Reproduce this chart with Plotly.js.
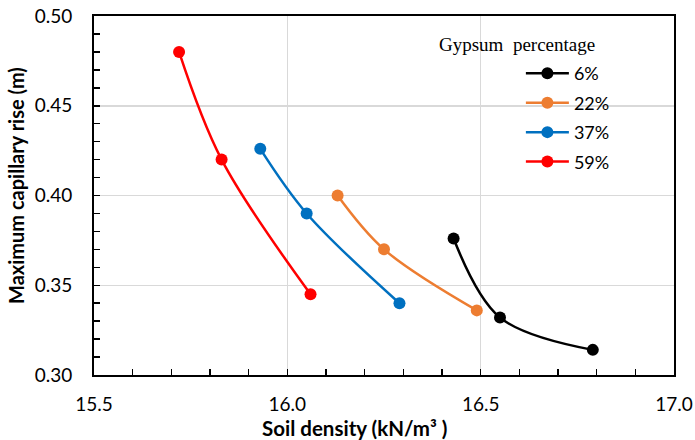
<!DOCTYPE html>
<html>
<head>
<meta charset="utf-8">
<script src="https://cdn.plot.ly/plotly-3.0.1.min.js"></script>
<style>html,body{margin:0;padding:0;background:#fff;}</style>
</head>
<body>
<div id="chart" style="width:695px;height:440px;"></div>
<script>
const seriesNames = ["6%", "22%", "37%", "59%"];
const seriesColors = ["#000000", "#ED7D31", "#0070C0", "#FF0000"];
const density6 = [16.43, 16.55, 16.79];
const rise6 = [0.376, 0.332, 0.314];
const density22 = [16.13, 16.25, 16.49];
const rise22 = [0.400, 0.370, 0.336];
const density37 = [15.93, 16.05, 16.29];
const rise37 = [0.426, 0.390, 0.340];
const density59 = [15.72, 15.83, 16.06];
const rise59 = [0.480, 0.420, 0.345];
const xData = [density6, density22, density37, density59];
const yData = [rise6, rise22, rise37, rise59];

const font = "Lato, 'Open Sans', sans-serif";
const traces = seriesNames.map((n, i) => ({
  x: xData[i], y: yData[i], name: n, legendgroup: "g" + i,
  type: "scatter", mode: "lines+markers",
  line: {color: seriesColors[i], width: 2.5, shape: "spline", smoothing: 1},
  marker: {color: seriesColors[i], size: 12}
}));

const L = 94, T = 16, W = 580, H = 359;
const layout = {
  width: 695, height: 440,
  margin: {l: L, r: 21, t: T, b: 65},
  paper_bgcolor: "#fff", plot_bgcolor: "#fff",
  font: {family: font, size: 18, color: "#000"},
  showlegend: true,
  legend: {x: 0.736, y: 0.891, xanchor: "left", yanchor: "top",
    bgcolor: "rgba(0,0,0,0)", font: {family: font, size: 18},
    tracegroupgap: 3, traceorder: "grouped", itemwidth: 43},
  annotations: [{
    text: "Gypsum  percentage", xref: "paper", yref: "paper",
    x: (437 - L) / W, y: 1 - (44 - T) / H, xanchor: "left", yanchor: "middle", showarrow: false,
    font: {family: "'Liberation Serif', 'Times New Roman', serif", size: 19}
  }, {
    text: "<b>Soil density (kN/m³ )</b>", xref: "paper", yref: "paper",
    x: (355 - L) / W, y: 1 - (428 - T) / H, xanchor: "center", yanchor: "middle", showarrow: false,
    font: {family: font, size: 20.5}
  }, {
    text: "<b>Maximum capillary rise (m)</b>", xref: "paper", yref: "paper", textangle: -90,
    x: (16 - L) / W, y: 1 - (186 - T) / H, xanchor: "center", yanchor: "middle", showarrow: false,
    font: {family: font, size: 20}
  }],
  xaxis: {
    range: [15.5, 17.0], dtick: 0.5, tickformat: ".1f",
    showgrid: true, gridcolor: "#d9d9d9", gridwidth: 1.5,
    showline: true, linecolor: "#000", linewidth: 2, mirror: true,
    ticks: "inside", ticklen: 6, tickcolor: "#000", tickwidth: 1.5,
    minor: {dtick: 0.1, ticks: "inside", ticklen: 6, tickcolor: "#000", tickwidth: 1.5, showgrid: false},
    zeroline: false, ticklabelstandoff: 11,
    tickfont: {family: font, size: 19}
  },
  yaxis: {
    range: [0.30, 0.50], dtick: 0.05, tickformat: ".2f",
    showgrid: true, gridcolor: "#d9d9d9", gridwidth: 1.5,
    showline: true, linecolor: "#000", linewidth: 2, mirror: true,
    ticks: "inside", ticklen: 6, tickcolor: "#000", tickwidth: 1.5,
    minor: {dtick: 0.01, ticks: "inside", ticklen: 6, tickcolor: "#000", tickwidth: 1.5, showgrid: false},
    zeroline: false, ticklabelstandoff: 16,
    tickfont: {family: font, size: 19}
  }
};
Plotly.newPlot("chart", traces, layout, {displayModeBar: false, staticPlot: true});
</script>
</body>
</html>
